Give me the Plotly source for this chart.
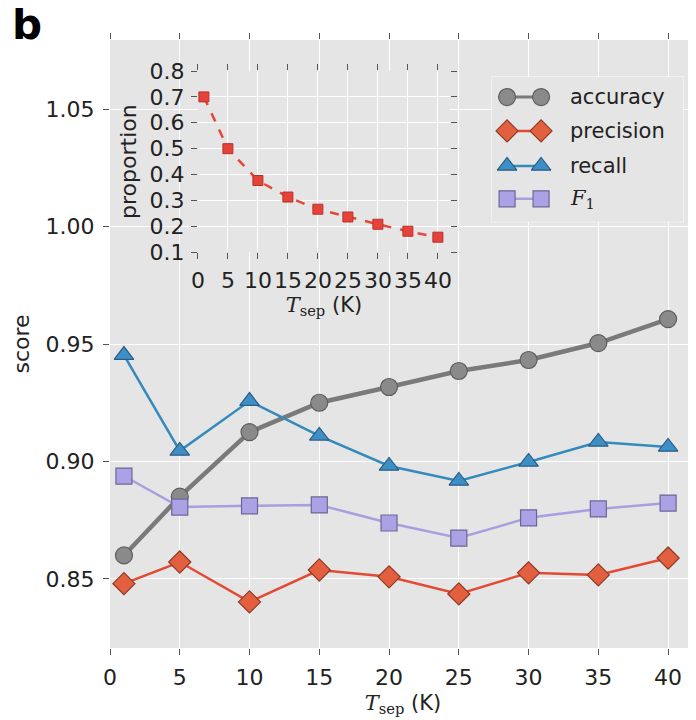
import plotly.graph_objects as go

# ---- data ----
t_sep = [1, 5, 10, 15, 20, 25, 30, 35, 40]
accuracy = [0.860, 0.885, 0.9125, 0.925, 0.9317, 0.9385, 0.9432, 0.9504, 0.9606]
precision = [0.848, 0.8572, 0.8402, 0.8538, 0.8509, 0.8436, 0.8526, 0.8517, 0.8589]
recall = [0.9453, 0.9045, 0.9257, 0.9109, 0.8981, 0.8917, 0.8998, 0.9083, 0.9062]
f1 = [0.8938, 0.8806, 0.8811, 0.8815, 0.8738, 0.8674, 0.8760, 0.8798, 0.8823]
proportion = [0.70, 0.50, 0.377, 0.313, 0.266, 0.236, 0.208, 0.181, 0.158]

series_names = ["accuracy", "precision", "recall", "<span style=\"font-family:'DejaVu Serif'\"><i>F</i><sub>1</sub></span>"]

# ---- styles ----
BG = "#E5E5E5"
GRID = "#FFFFFF"
FONT = "DejaVu Sans"
TXT = "#222222"
styles = [
    dict(line="#7A7A7A", fill="#8A8A8A", edge="#5E5E5E", symbol="circle", size=17, lw=4.5),
    dict(line="#E24A33", fill="#E2603F", edge="#8E3A26", symbol="diamond", size=17, lw=2.5),
    dict(line="#348ABD", fill="#3D8FC6", edge="#2B5E86", symbol="triangle-up", size=17, lw=2.5),
    dict(line="#A89FE0", fill="#ABA2E6", edge="#6C6694", symbol="square", size=16, lw=2.5),
]
all_series = [accuracy, precision, recall, f1]

fig = go.Figure()
for vals, st in zip(all_series, styles):
    fig.add_trace(go.Scatter(
        x=t_sep, y=vals, mode="lines+markers", showlegend=False,
        line=dict(color=st["line"], width=st["lw"]),
        marker=dict(symbol=st["symbol"], size=st["size"], color=st["fill"],
                    line=dict(color=st["edge"], width=1.2)),
        xaxis="x", yaxis="y"))

# inset
fig.add_trace(go.Scatter(
    x=t_sep, y=proportion, mode="lines+markers", showlegend=False,
    line=dict(color="#E5473A", width=2.5, dash="dash"),
    marker=dict(symbol="square", size=10, color="#E5433A", line=dict(color="#B83028", width=1)),
    xaxis="x2", yaxis="y2"))

# custom legend drawn on its own small axis
leg_rows = [0.862, 0.628, 0.386, 0.159]
leg_mx = [0.0785, 0.2565]
for name, st, ry in zip(series_names, styles, leg_rows):
    fig.add_trace(go.Scatter(
        x=leg_mx, y=[ry, ry], mode="lines+markers", showlegend=False, hoverinfo="skip",
        line=dict(color=st["line"], width=min(st["lw"], 3)),
        marker=dict(symbol=st["symbol"], size=st["size"], color=st["fill"],
                    line=dict(color=st["edge"], width=1.2)),
        xaxis="x3", yaxis="y3"))
    fig.add_annotation(x=0.398, y=ry, xref="x3", yref="y3", text=name, showarrow=False,
                       xanchor="left", yanchor="middle",
                       font=dict(family=FONT, size=21, color=TXT))

tsep_title = "<span style=\"font-family:'DejaVu Serif'\"><i>T</i></span><sub><span style=\"font-family:'DejaVu Serif'\">sep</span></sub> (K)"

axis_common = dict(showgrid=True, gridcolor=GRID, gridwidth=1.2, zeroline=False,
                   ticks="outside", ticklen=6, tickcolor="#555555", tickwidth=1,
                   mirror="ticks", showline=False, automargin=False, tickangle=0,
                   tickfont=dict(family=FONT, size=22, color=TXT))

# page body has an 8px default margin, so the figure is 8px smaller than the window
fig.update_layout(
    width=688, height=712,
    margin=dict(l=102, r=0, t=32, b=72),
    paper_bgcolor="white", plot_bgcolor=BG,
    font=dict(family=FONT, color=TXT),
    xaxis=dict(range=[0, 42], tick0=0, dtick=5, domain=[0, 1], ticklabelstandoff=4,
               title=dict(text=tsep_title, font=dict(family=FONT, size=21, color=TXT), standoff=5),
               **axis_common),
    yaxis=dict(range=[0.8206, 1.0794], tick0=0.85, dtick=0.05, tickformat=".2f", domain=[0, 1],
               ticklabelstandoff=4,
               title=dict(text="score", font=dict(family=FONT, size=22, color=TXT), standoff=9),
               **axis_common),
    xaxis2=dict(range=[0, 42], tick0=0, dtick=5, domain=[0.150, 0.580], anchor="y2",
                ticklabelstandoff=2,
                title=dict(text=tsep_title, font=dict(family=FONT, size=21, color=TXT), standoff=1),
                **axis_common),
    yaxis2=dict(range=[0.1, 0.8], tick0=0.1, dtick=0.1, tickformat=".1f", domain=[0.651, 0.949], anchor="x2",
                ticklabelstandoff=2,
                title=dict(text="proportion", font=dict(family=FONT, size=22, color=TXT), standoff=6),
                **axis_common),
    xaxis3=dict(range=[0, 1], domain=[0.652, 0.978], anchor="y3", visible=False, fixedrange=True),
    yaxis3=dict(range=[0, 1], domain=[0.701, 0.939], anchor="x3", visible=False, fixedrange=True),
)

# inset background and legend box
fig.add_shape(type="rect", xref="x2 domain", yref="y2 domain", x0=0, x1=1, y0=0, y1=1,
              fillcolor=BG, line=dict(width=0), layer="below")
fig.add_shape(type="rect", xref="x3 domain", yref="y3 domain", x0=0, x1=1, y0=0, y1=1,
              fillcolor="#EBEBEB", line=dict(color="#F4F4F4", width=1.5), layer="below")

# panel label
fig.add_annotation(x=-0.141, y=0.982, xref="paper", yref="paper", text="<b>b</b>", showarrow=False,
                   xanchor="center", yanchor="bottom",
                   font=dict(family=FONT, size=42, color="#000000"))

fig.write_html("out.html")
